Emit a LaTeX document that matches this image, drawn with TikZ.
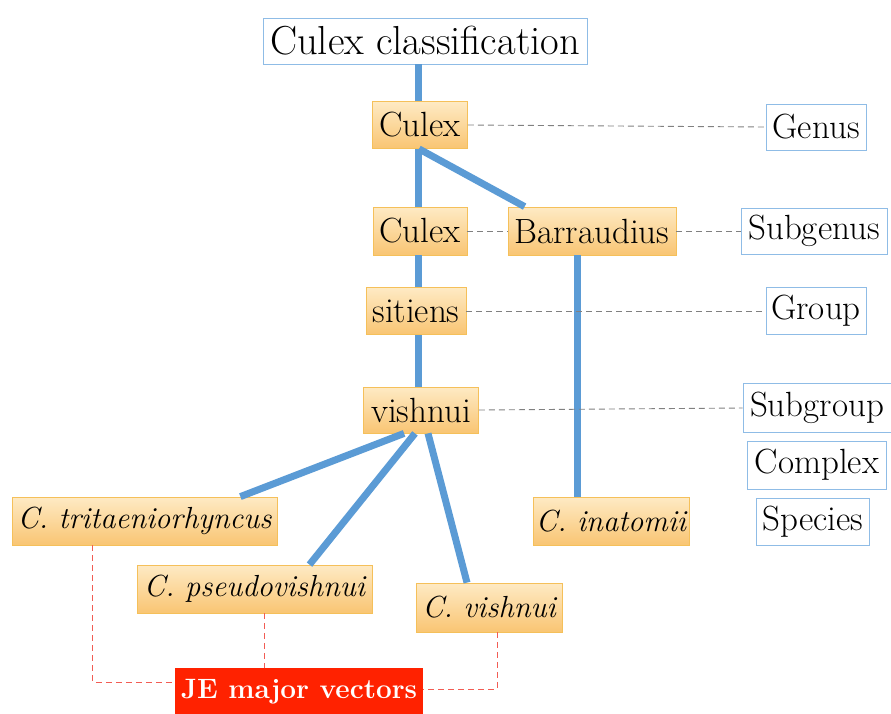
\documentclass[tikz,border=0pt]{standalone}
\usetikzlibrary{calc}
\definecolor{bluel}{HTML}{5B9BD5}
\definecolor{boxb}{HTML}{8FBCE6}
\definecolor{orT}{HTML}{FEEAC4}
\definecolor{orB}{HTML}{F9C573}
\definecolor{orD}{HTML}{F5C05A}
\definecolor{jered}{HTML}{FF2200}
\definecolor{reddash}{HTML}{F25C54}
\tikzset{
  lvl/.style={draw=boxb, line width=0.8pt, fill=white, inner sep=0pt, font=\fontsize{35}{40}\selectfont},
  taxon/.style={draw=orD, line width=0.8pt, top color=orT, bottom color=orB, inner sep=0pt, font=\fontsize{35}{40}\selectfont},
  sp/.style={taxon, font=\fontsize{30.5}{36}\selectfont\itshape},
  tree/.style={draw=bluel, line width=7pt},
  gdash/.style={draw=gray, line width=0.9pt, dash pattern=on 6pt off 4pt},
  rdash/.style={draw=reddash, line width=1pt, dash pattern=on 6pt off 4pt},
}
\begin{document}
\begin{tikzpicture}[x=1pt,y=-1pt]
\useasboundingbox (0,0) rectangle (891,713);
% level boxes
\node[lvl, minimum width=324, minimum height=46, font=\fontsize{40.5}{46}\selectfont] (title) at (425,41) {Culex classification};
\node[lvl, minimum width=100, minimum height=46] (genus) at (816,127) {Genus};
\node[lvl, minimum width=146, minimum height=46] (subgenus) at (814,231) {Subgenus};
\node[lvl, minimum width=100, minimum height=47] (group) at (816,311) {Group};
\node[lvl, minimum width=148, minimum height=49] (subgroup) at (817,408) {Subgroup};
\node[lvl, minimum width=139, minimum height=48] (complex) at (817,465) {Complex};
\node[lvl, minimum width=113, minimum height=47] (species) at (813,522) {Species};
% taxa
\node[taxon, minimum width=95, minimum height=47] (c1) at (420,125) {Culex};
\node[taxon, minimum width=94, minimum height=48] (c2) at (420,231) {Culex};
\node[taxon, minimum width=168, minimum height=48] (bar) at (592,231) {Barraudius};
\node[taxon, minimum width=100, minimum height=47] (sit) at (416,311) {sitiens};
\node[taxon, minimum width=115, minimum height=46] (vish) at (421,410) {vishnui};
\node[sp, minimum width=265, minimum height=48] (trit) at (144.5,521) {C. tritaeniorhyncus};
\node[sp, minimum width=156, minimum height=48] (ina) at (611,521) {C. inatomii};
\node[sp, minimum width=235, minimum height=48] (pseudo) at (254.5,589) {C. pseudovishnui};
\node[sp, minimum width=146, minimum height=49] (cvish) at (489,607.5) {C. vishnui};
\node[fill=jered, text=white, inner sep=0pt, minimum width=248, minimum height=48, font=\fontsize{28}{34}\selectfont\bfseries] (je) at (299,692) {JE major vectors};
% tree lines
\draw[tree] ([xshift=-2]c1.north) -- ([xshift=-2]c1.north |- title.south);
\draw[tree] ([xshift=-2]c2.north) -- ([xshift=-2]c2.north |- c1.south);
\draw[tree] ([xshift=-1]c1.south) -- ([xshift=17]bar.north west);
\draw[tree] ([xshift=-2]c2.south) -- ([xshift=-2]c2.south |- sit.north);
\draw[tree] ([xshift=-3]vish.north) -- ([xshift=-3]vish.north |- sit.south);
\draw[tree] ([xshift=-15]bar.south) -- ([xshift=-15]bar.south |- ina.north);
\draw[tree] ([xshift=41]vish.south west) -- ([xshift=-37]trit.north east);
\draw[tree] ([xshift=-6]vish.south) -- ([xshift=55]pseudo.north);
\draw[tree] ([xshift=7]vish.south) -- ([xshift=-22]cvish.north);
% gray dashed
\draw[gdash] (c1.east) -- (genus.west);
\draw[gdash] (c2.east) -- (bar.west);
\draw[gdash] (bar.east) -- (subgenus.west);
\draw[gdash] (sit.east) -- (group.west);
\draw[gdash] (vish.east) -- (subgroup.west);
% red dashed
\coordinate (tl) at ([xshift=-52]trit.south);
\draw[rdash] (tl) |- ([yshift=10]je.west);
\draw[rdash] ([xshift=10]pseudo.south) -- ([xshift=10]pseudo.south |- je.north);
\draw[rdash] ([xshift=8]cvish.south) |- ([yshift=3]je.east);
\end{tikzpicture}
\end{document}
